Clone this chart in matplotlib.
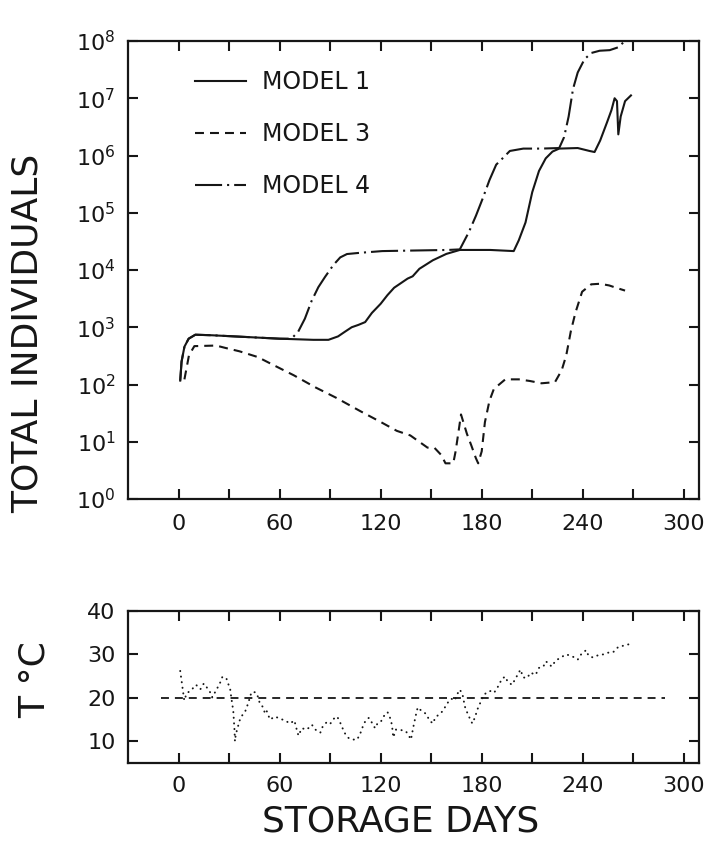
import matplotlib
matplotlib.use("Agg")
import matplotlib.pyplot as plt
import numpy as np
from matplotlib.ticker import FixedLocator, NullLocator, FuncFormatter

plt.rcParams['font.family'] = ['DejaVu Sans']
plt.rcParams['mathtext.default'] = 'regular'

INK = '#161616'

# ---------------- data ----------------
m1_days = [1, 1.8, 3.5, 6, 10, 20, 40, 60, 80, 89, 94.7, 98.7, 102.8, 106.8, 110.8,
           114.8, 120, 124, 128, 132, 136, 139, 143, 151, 159, 167, 185, 199, 202,
           206, 210, 214, 218, 222, 226, 237, 244, 247, 250.3, 254.4, 257, 258.9,
           260.3, 261.1, 262.5, 265.1, 268.6]
m1_vals = [117, 251, 457, 631, 741, 724, 676, 631, 603, 603, 692, 832, 1000, 1100, 1230,
           1780, 2570, 3630, 4900, 5890, 7080, 7760, 10500, 14800, 19100, 22400, 22400,
           21400, 33000, 67600, 229000, 537000, 891000, 1170000, 1320000, 1350000,
           1200000, 1150000, 1820000, 3800000, 6170000, 1.0e7, 8.9e6, 2.34e6, 4.79e6,
           8.9e6, 1.12e7]

m3_days = [3.5, 6.2, 9.4, 22.3, 27.6, 36.2, 47, 56.3, 68.4, 81.3, 93.4, 108.1, 120.2,
           129.6, 137.6, 147.8, 152, 155.9, 158.5, 163.1, 164.5, 166.6, 167.7, 171.2,
           173.9, 176.5, 177.9, 180, 181.9, 184.6, 187.3, 190, 194, 202, 208.7, 215.5,
           223.5, 227.5, 230.2, 232.9, 235.6, 239.6, 245, 250.3, 255.7, 259.7, 265.1]
m3_vals = [123, 324, 468, 479, 437, 380, 302, 219, 145, 89, 59, 34, 22,
           15.5, 12.9, 7.9, 7.8, 5.9, 4.2, 4.2, 6.8, 17.8, 30, 13.8,
           8.5, 5.2, 4.2, 6.8, 22, 52, 85, 98, 123, 123, 115, 105,
           110, 178, 324, 850, 1780, 4170, 5620, 5750, 5370, 4900, 4370]

m4_days = [1, 1.8, 3.5, 6, 10, 20, 40, 60, 65, 68, 71, 75, 79, 83, 87, 92, 96, 100,
           108, 121, 140, 160, 167, 172.5, 176.6, 180.6, 184.6, 188.6, 192.7, 196.7,
           204.7, 215, 226, 228.9, 231.6, 234.2, 237, 241, 245, 250, 256, 261, 265,
           268]
m4_vals = [117, 251, 457, 631, 741, 724, 676, 631, 631, 676, 832, 1410, 2880, 5010,
           7590, 12300, 16600, 19000, 20000, 21400, 21900, 22400, 22900, 46800, 89100,
           178000, 372000, 692000, 912000, 1200000, 1320000, 1320000, 1350000, 2090000,
           4790000, 1.45e7, 2.82e7, 4.79e7, 6.17e7, 6.76e7, 6.92e7, 7.76e7, 1.0e8,
           1.26e8]

temp_days = [1, 3.4, 4.8, 7.8, 10.4, 13, 15, 16.4, 18.5, 20, 24.5, 26, 28.3, 29.7,
             30.7, 31.3, 32.5, 33.2, 33.5, 34, 35, 36.3, 37.7, 39.7, 41.3, 43.3, 45.7,
             46.9, 48.3, 50.3, 51.3, 52.3, 54.3, 57.3, 60.2, 63.2, 66.2, 68.8, 69.6,
             71.2, 73.2, 76.2, 79.2, 81.2, 84.2, 85.6, 88.2, 90.2, 92.2, 94.2, 96.2,
             97.5, 99.1, 101.1, 103.1, 106.1, 108.1, 109.5, 111.1, 113, 115.1, 116.7,
             118.1, 120.1, 122.1, 124.1, 125.5, 126.7, 127.5, 129.1, 132, 135, 137,
             138, 139.4, 141, 142, 144, 147, 149, 151, 152.5, 155, 157, 159.4, 162,
             164, 165.4, 167, 168.6, 170, 171.4, 173, 174.4, 176, 177.4, 179, 181,
             183, 185.4, 187.4, 190, 192, 194, 195.4, 198, 200, 202, 203, 204.6, 207,
             209, 212, 214, 216.6, 218, 220, 221.4, 224, 227, 230, 233, 235, 237,
             239, 242, 243.4, 246, 249, 252, 255, 258, 261, 269]
temp_vals = [26.2, 19.4, 21, 21.9, 23, 22, 23.3, 22.6, 21.5, 20.1, 23.3, 24.8, 24.6, 23,
             21.9, 20.1, 17, 12.7, 10.0, 11.6, 13, 14.8, 15.9, 17, 18.7, 21.3, 21.3,
             20.5, 18.7, 17.8, 16.4, 17, 15, 15.7, 15.2, 14.8, 14.1, 14.8, 13.5,
             11.3, 13, 12.7, 13.8, 12.7, 12, 13.4, 14.5, 14.1, 15.2, 15.7, 14.1,
             12.9, 11.6, 10.7, 10.4, 10.4, 12, 13.5, 14.8, 15.4, 14.1, 13,
             14.1, 14.5, 15.9, 16.7, 15.5, 13.8, 10.9, 12.7, 12.6, 12.3, 11.1,
             10.4, 13.3, 16.2, 17.8, 17.1, 16.3, 14.8, 14.1, 15.5, 16.3, 17, 18.7, 19.8,
             19.4, 20.8, 21.9, 20.8, 18, 16.6, 15.2, 14.1, 15.5, 17.3, 18.7, 20.5,
             21.3, 21.6, 21.2, 22.8, 24.4, 24.9, 23.7, 23, 24.4, 25.8, 26.5, 24.7, 24.6,
             25.8, 25.3, 26.9, 27.2, 28.4, 27.9, 27.2, 28.6, 29.3, 30, 29.7, 29.3, 28.8,
             30, 31, 29.7, 29.3, 29.8, 30, 30.4, 30.5, 31.7, 32.5]

ref_days = [-10.5, 289]
ref_temp = [20, 20]

x_ticks = list(range(0, 301, 30))
x_labels = ['0', '', '60', '', '120', '', '180', '', '240', '', '300']
y_top_exps = list(range(0, 9))
y_bot_ticks = [10, 20, 30, 40]

legend_labels = ['MODEL 1', 'MODEL 3', 'MODEL 4']

# ---------------- figure ----------------
W, H = 706, 841
fig = plt.figure(figsize=(W / 100, H / 100), dpi=100)
L, R = 128, 699
T1, B1 = 41, 499
T2, B2 = 611, 763
ax1 = fig.add_axes([L / W, (H - B1) / H, (R - L) / W, (B1 - T1) / H])
ax2 = fig.add_axes([L / W, (H - B2) / H, (R - L) / W, (B2 - T2) / H])

lw = 1.5
l1, = ax1.plot(m1_days, m1_vals, color=INK, lw=lw, solid_joinstyle='round')
l3, = ax1.plot(m3_days, m3_vals, color=INK, lw=lw, linestyle=(0, (4.3, 2.9)))
l4, = ax1.plot(m4_days, m4_vals, color=INK, lw=lw, linestyle=(0, (13, 2.4, 1, 2.4)))

ax1.set_yscale('log')
ax1.set_ylim(1, 1e8)
ax1.set_xlim(-30, 309)

ax2.plot(temp_days, temp_vals, color=INK, lw=1.4, linestyle=(0, (0.1, 2.8)),
         dash_capstyle='round')
ax2.plot(ref_days, ref_temp, color=INK, lw=1.3, linestyle=(0, (4.4, 3.3)))
ax2.set_xlim(-30, 309)
ax2.set_ylim(5, 40)

for ax in (ax1, ax2):
    for s in ax.spines.values():
        s.set_linewidth(1.6)
        s.set_color(INK)
    ax.xaxis.set_major_locator(FixedLocator(x_ticks))
    ax.set_xticklabels(x_labels)
    ax.xaxis.set_minor_locator(NullLocator())
    ax.yaxis.set_minor_locator(NullLocator())
    ax.tick_params(axis='both', which='major', direction='in', length=7.2, width=1.5,
                   top=True, right=True, labelsize=16, colors=INK)

ax1.tick_params(axis='x', pad=11)
ax2.tick_params(axis='x', pad=9)
ax1.tick_params(axis='y', pad=9)
ax2.tick_params(axis='y', pad=9)

ax1.yaxis.set_major_locator(FixedLocator([10.0 ** e for e in y_top_exps]))
ax1.yaxis.set_major_formatter(FuncFormatter(lambda v, p: r'$10^{%d}$' % round(np.log10(v))))
ax2.yaxis.set_major_locator(FixedLocator(y_bot_ticks))
ax2.set_yticklabels([str(t) for t in y_bot_ticks])

ax1.legend([l1, l3, l4], legend_labels, loc='upper left',
           bbox_to_anchor=((195 - L) / (R - L), (B1 - 70) / (B1 - T1)),
           frameon=False, fontsize=17, handlelength=2.15, handletextpad=0.68,
           labelspacing=1.19, borderpad=0, borderaxespad=0, labelcolor=INK)

fig.text(28 / W, 1 - 333 / H, 'TOTAL INDIVIDUALS', rotation=90, ha='center', va='center',
         fontsize=26, color=INK)
fig.text(35 / W, 1 - 680 / H, 'T °C', rotation=90, ha='center', va='center',
         fontsize=26, color=INK)
fig.text(401 / W, 1 - 831 / H, 'STORAGE DAYS', ha='center', va='baseline',
         fontsize=26, color=INK)

fig.savefig('out.png', dpi=100, facecolor='white')
